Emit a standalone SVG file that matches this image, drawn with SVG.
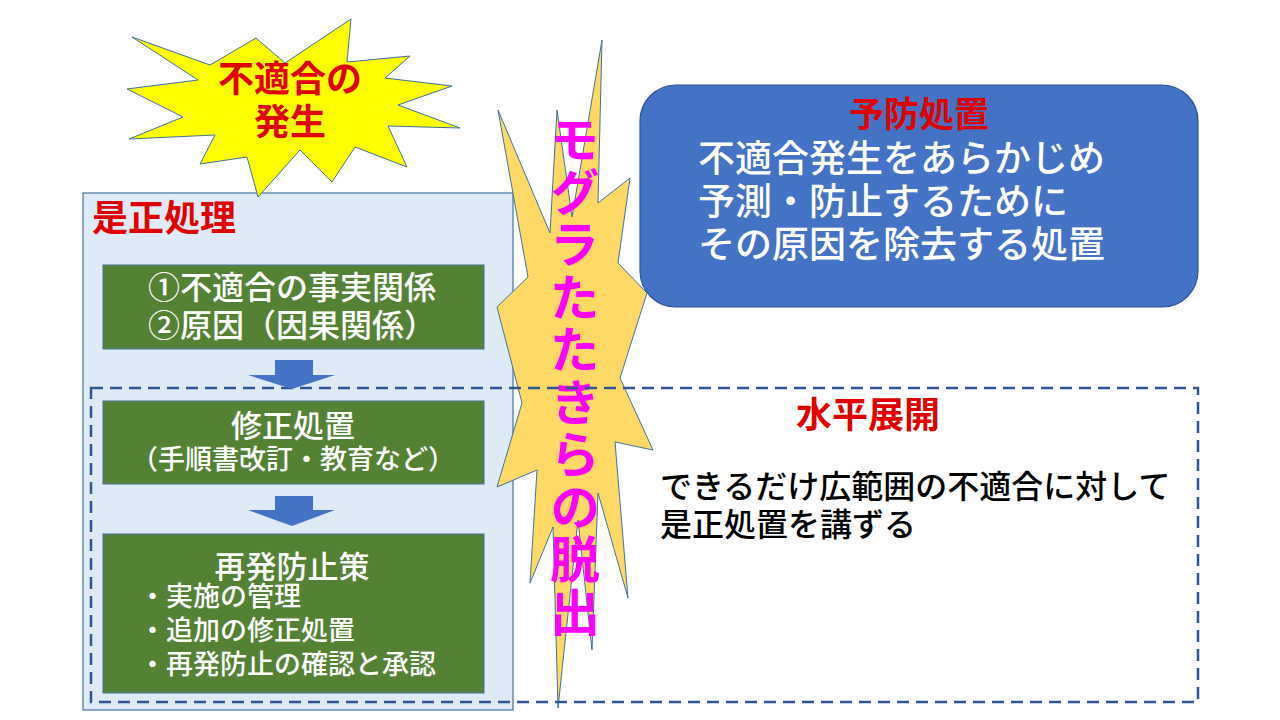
<svg xmlns="http://www.w3.org/2000/svg" width="1280" height="720" viewBox="0 0 1280 720">
<style>
text{font-family:"Noto Sans CJK JP","Noto Sans",sans-serif}
.red{fill:#E00000;font-weight:bold}
.wt{fill:#FFFFFF;font-weight:500}
.bk{fill:#000000;font-weight:500}
.green{fill:#548235;stroke:#41719C;stroke-width:1}
.arrow{fill:#4472C4;stroke:none}
</style>
<rect x="0" y="0" width="1280" height="720" fill="#FFFFFF"/>
<g id="panel-zesei">
<rect x="83" y="193" width="430" height="517" fill="#DEEBF7" stroke="#41719C" stroke-width="1.2"/>
<text class="red" x="92" y="231" font-size="36">是正処理</text>
</g>
<g id="box-cause">
<rect class="green" x="103" y="265" width="381" height="84"/>
<text class="wt" x="292" y="299" font-size="32" text-anchor="middle">①不適合の事実関係</text>
<text class="wt" x="292" y="337" font-size="32" text-anchor="middle">②原因（因果関係）</text>
</g>
<g id="box-correction">
<rect class="green" x="103" y="401" width="381" height="83"/>
<text class="wt" x="293" y="437" font-size="31" text-anchor="middle">修正処置</text>
<text class="wt" x="293" y="469" font-size="27" text-anchor="middle">（手順書改訂・教育など）</text>
</g>
<g id="box-prevent">
<rect class="green" x="103" y="534" width="381" height="159"/>
<text class="wt" x="292" y="578" font-size="31" text-anchor="middle">再発防止策</text>
<text class="wt" x="139" y="606" font-size="27">・実施の管理</text>
<text class="wt" x="139" y="640" font-size="27">・追加の修正処置</text>
<text class="wt" x="139" y="674" font-size="27">・再発防止の確認と承認</text>
</g>
<g id="burst-occurrence">
<polygon points="132,37 210,65 256,38 285,63 351,19 347,62 410,56 385,78 452,86 398,105 460,128 388,126 407,167 355,147 332,182 300,150 258,197 247,157 200,164 215,135 129,139 183,117 127,89 198,80" fill="#FFFF00" stroke="#41719C" stroke-width="1"/>
<text class="red" x="290" y="92" font-size="36" text-anchor="middle">不適合の</text>
<text class="red" x="290" y="135" font-size="36" text-anchor="middle">発生</text>
</g>
<g id="burst-escape">
<polygon points="602,40 598,203 630,178 618,263 647,293 620,378 653,450 615,442 628,598 598,493 592,650 578,520 558,708 553,527 530,583 537,470 497,487 522,403 497,307 528,277 498,110 550,233 557,110 572,217" fill="#FFD966" stroke="#41719C" stroke-width="1"/>
<text x="575" y="114" fill="#FF00FF" font-weight="bold" font-size="50" writing-mode="vertical-rl" letter-spacing="2.5">モグラたたきらの脱出</text>
</g>
<g id="box-yobou">
<rect x="640" y="85" width="558" height="222" rx="36" ry="36" fill="#4472C4" stroke="#2F528F" stroke-width="1.2"/>
<text class="red" x="919" y="127" font-size="35" text-anchor="middle">予防処置</text>
<text class="wt" x="698" y="172" font-size="37">不適合発生をあらかじめ</text>
<text class="wt" x="698" y="215" font-size="37">予測・防止するために</text>
<text class="wt" x="698" y="258" font-size="37">その原因を除去する処置</text>
</g>
<g id="area-suihei">
<rect x="91" y="388" width="1107" height="314" fill="none" stroke="#2F5597" stroke-width="2.5" stroke-dasharray="12 7"/>
<text class="red" x="868" y="428" font-size="36" text-anchor="middle">水平展開</text>
<text class="bk" x="660" y="498" font-size="32">できるだけ広範囲の不適合に対して</text>
<text class="bk" x="660" y="536" font-size="32">是正処置を講ずる</text>
</g>
<g id="connectors">
<polygon class="arrow" points="275,360 313,360 313,375 335,375 292,389 248,375 275,375"/>
<polygon class="arrow" points="275,496 313,496 313,510 335,510 292,526 248,510 275,510"/>
</g>
</svg>
